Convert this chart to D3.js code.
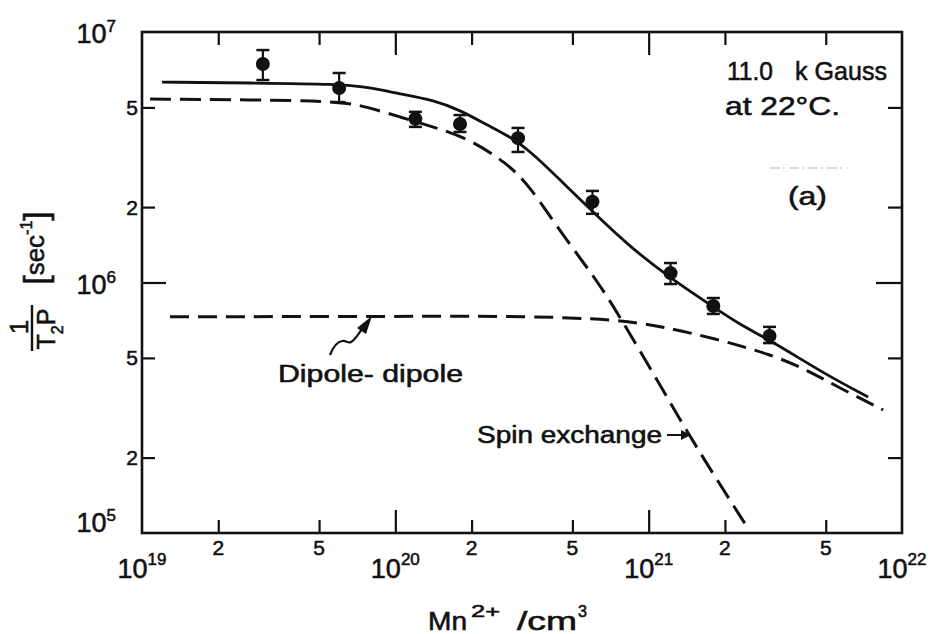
<!DOCTYPE html>
<html>
<head>
<meta charset="utf-8">
<script src="https://cdn.jsdelivr.net/npm/d3@7"></script>
<style>
  html, body { margin: 0; padding: 0; background: #fff; }
  svg { display: block; font-family: "Liberation Sans", Arial, sans-serif; }
  svg text { stroke: #111; stroke-width: 0.55px; }
</style>
</head>
<body>
<svg id="chart" width="944" height="634"></svg>
<script>
// Relaxation rate 1/(T2 P) against Mn2+ concentration (11.0 kGauss, 22 °C)

// Measured points with error limits
const concentration = [3.0e19, 6.0e19, 1.2e20, 1.8e20, 3.05e20, 6.0e20, 1.22e21, 1.8e21, 3.0e21];
const rate          = [7.45e6, 5.98e6, 4.50e6, 4.29e6, 3.77e6, 2.10e6, 1.09e6, 8.06e5, 6.12e5];
const rateLow       = [6.43e6, 5.25e6, 4.18e6, 3.99e6, 3.32e6, 1.88e6, 9.86e5, 7.49e5, 5.73e5];
const rateHigh      = [8.47e6, 6.86e6, 4.80e6, 4.66e6, 4.14e6, 2.32e6, 1.196e6, 8.67e5, 6.65e5];

// Calculated total rate (solid)
const totalCurve = [
  [1.20e19, 6.31e6], [2.67e19, 6.26e6], [6.05e19, 6.20e6], [7.73e19, 6.03e6],
  [1.044e20, 5.66e6], [1.41e20, 5.35e6], [1.80e20, 4.88e6], [2.30e20, 4.25e6],
  [3.02e20, 3.71e6], [3.97e20, 2.89e6], [4.47e20, 2.565e6], [6.03e20, 1.912e6],
  [8.45e20, 1.386e6], [1.215e21, 1.042e6], [1.80e21, 7.99e5], [2.30e21, 6.77e5],
  [3.10e21, 5.79e5], [4.88e21, 4.35e5], [7.35e21, 3.49e5]
];

// Spin-exchange contribution (dashed)
const spinExchangeCurve = [
  [1.076e19, 5.40e6], [2.67e19, 5.36e6], [6.05e19, 5.30e6], [7.73e19, 5.02e6],
  [1.044e20, 4.58e6], [1.41e20, 4.18e6], [1.92e20, 3.78e6], [2.76e20, 3.00e6],
  [3.40e20, 2.42e6], [4.59e20, 1.54e6], [6.25e20, 1.02e6], [7.71e20, 7.28e5],
  [1.08e21, 4.08e5], [1.457e21, 2.42e5], [1.862e21, 1.63e5], [2.446e21, 1.057e5]
];

// Dipole-dipole contribution (dashed)
const dipoleCurve = [
  [1.29e19, 7.30e5], [1.044e20, 7.32e5], [3.40e20, 7.35e5], [7.71e20, 7.10e5],
  [1.14e21, 6.65e5], [1.80e21, 6.00e5], [3.10e21, 5.13e5], [4.22e21, 4.47e5],
  [5.69e21, 3.79e5], [8.42e21, 3.10e5]
];

// Axis ticks and labels
const xMinorTicks  = [2e19, 5e19, 2e20, 5e20, 2e21, 5e21];
const xMinorLabels = ["2", "5", "2", "5", "2", "5"];
const xDecades     = [1e19, 1e20, 1e21, 1e22];
const xDecadeExp   = ["19", "20", "21", "22"];
const yMinorTicks  = [2e5, 5e5, 2e6, 5e6];
const yMinorLabels = ["2", "5", "2", "5"];
const yDecades     = [1e5, 1e6, 1e7];
const yDecadeExp   = ["5", "6", "7"];

const svg = d3.select("#chart");
const L = 142, R = 902, T = 32, B = 533;

const x = d3.scaleLog().domain([1e19, 1e22]).range([L, R]);
const y = d3.scaleLog().domain([1e5, 1e7]).range([B, T]);

const ink = "#111";

// Inward ticks on all four sides
const innerMajX = xDecades.filter(v => v > 1e19 && v < 1e22);
const innerMajY = yDecades.filter(v => v > 1e5 && v < 1e7);

function tickAxis(axisFn, scale, values, size, transform) {
  const g = svg.append("g").attr("transform", transform)
    .call(axisFn(scale).tickValues(values).tickSize(size).tickFormat(""));
  g.select(".domain").remove();
  g.selectAll(".tick line").attr("stroke", ink).attr("stroke-width", 2.2);
}
tickAxis(d3.axisBottom, x, xMinorTicks, -13, `translate(0,${B})`);
tickAxis(d3.axisBottom, x, innerMajX, -23, `translate(0,${B})`);
tickAxis(d3.axisTop, x, xMinorTicks, -13, `translate(0,${T})`);
tickAxis(d3.axisTop, x, innerMajX, -23, `translate(0,${T})`);
tickAxis(d3.axisLeft, y, yMinorTicks, -13, `translate(${L},0)`);
tickAxis(d3.axisLeft, y, innerMajY, -24, `translate(${L},0)`);
tickAxis(d3.axisRight, y, yMinorTicks, -14, `translate(${R},0)`);
tickAxis(d3.axisRight, y, innerMajY, -26, `translate(${R},0)`);

// Frame
svg.append("rect")
  .attr("x", L).attr("y", T).attr("width", R - L).attr("height", B - T)
  .attr("fill", "none").attr("stroke", ink).attr("stroke-width", 2.6);

// Tick labels
svg.append("g").selectAll("text").data(xMinorTicks).join("text")
  .attr("x", d => x(d)).attr("y", 555)
  .attr("text-anchor", "middle").attr("font-size", 21).attr("fill", ink)
  .text((d, i) => xMinorLabels[i]);

xDecades.forEach((v, i) => {
  const t = svg.append("text")
    .attr("x", x(v)).attr("y", 578)
    .attr("text-anchor", "middle").attr("fill", ink).attr("font-size", 27);
  t.append("tspan").text("10");
  t.append("tspan").attr("font-size", 17).attr("dy", -13).text(xDecadeExp[i]);
});

svg.append("g").selectAll("text").data(yMinorTicks).join("text")
  .attr("x", 138).attr("y", d => y(d) + 7.5)
  .attr("text-anchor", "end").attr("font-size", 21).attr("fill", ink)
  .text((d, i) => yMinorLabels[i]);

yDecades.forEach((v, i) => {
  const t = svg.append("text")
    .attr("x", 116).attr("y", Math.min(y(v) + 11, B - 1))
    .attr("text-anchor", "end").attr("fill", ink).attr("font-size", 27);
  t.append("tspan").text("10");
  t.append("tspan").attr("font-size", 17).attr("dy", -11).text(yDecadeExp[i]);
});

// Axis titles
function label(txt, xs, ys, size, len) {
  return svg.append("text").attr("x", xs).attr("y", ys)
    .attr("font-size", size).attr("fill", ink)
    .attr("textLength", len).attr("lengthAdjust", "spacingAndGlyphs")
    .text(txt);
}
label("Mn", 428, 630, 25, 39);
label("2+", 471, 617, 17, 29);
label("/cm", 517, 630, 25, 60);
label("3", 578, 617, 17, 9);

const yt = svg.append("g");
// numerator "1"
yt.append("text").attr("transform", "translate(28,327) rotate(-90)")
  .attr("text-anchor", "middle").attr("font-size", 26).attr("fill", ink).text("1");
// fraction bar
yt.append("line").attr("x1", 32).attr("x2", 32).attr("y1", 305).attr("y2", 351)
  .attr("stroke", ink).attr("stroke-width", 2.4);
// denominator T2P
const den = yt.append("text").attr("transform", "translate(55,329) rotate(-90)")
  .attr("text-anchor", "middle").attr("font-size", 25).attr("fill", ink);
den.append("tspan").text("T");
den.append("tspan").attr("font-size", 16).attr("dy", 8).text("2");
den.append("tspan").attr("dy", -8).text("P");
// units
const un = yt.append("text").attr("transform", "translate(44,248) rotate(-90)")
  .attr("text-anchor", "middle").attr("font-size", 26).attr("fill", ink);
un.append("tspan").attr("font-size", 34).attr("dy", 3).text("[");
un.append("tspan").attr("dy", -3).text("sec");
un.append("tspan").attr("font-size", 16).attr("dy", -12).text("-1");
un.append("tspan").attr("font-size", 34).attr("dy", 15).text("]");

// Curves
const line = d3.line().x(d => x(d[0])).y(d => y(d[1])).curve(d3.curveBasis);

svg.append("path").datum(dipoleCurve).attr("d", line)
  .attr("fill", "none").attr("stroke", ink).attr("stroke-width", 3)
  .attr("stroke-dasharray", "19,9");
svg.append("path").datum(spinExchangeCurve).attr("d", line)
  .attr("fill", "none").attr("stroke", ink).attr("stroke-width", 3)
  .attr("stroke-dasharray", "21,9");
svg.append("path").datum(totalCurve).attr("d", line)
  .attr("fill", "none").attr("stroke", ink).attr("stroke-width", 2.8);

// Data points with error bars
const pts = concentration.map((c, i) => ({ c, v: rate[i], lo: rateLow[i], hi: rateHigh[i] }));
const pg = svg.append("g").selectAll("g").data(pts).join("g");
pg.append("line")
  .attr("x1", d => x(d.c)).attr("x2", d => x(d.c))
  .attr("y1", d => y(d.lo)).attr("y2", d => y(d.hi))
  .attr("stroke", ink).attr("stroke-width", 2.2);
pg.append("line")
  .attr("x1", d => x(d.c) - 6.5).attr("x2", d => x(d.c) + 6.5)
  .attr("y1", d => y(d.hi)).attr("y2", d => y(d.hi))
  .attr("stroke", ink).attr("stroke-width", 2.5);
pg.append("line")
  .attr("x1", d => x(d.c) - 6.5).attr("x2", d => x(d.c) + 6.5)
  .attr("y1", d => y(d.lo)).attr("y2", d => y(d.lo))
  .attr("stroke", ink).attr("stroke-width", 2.5);
pg.append("circle")
  .attr("cx", d => x(d.c)).attr("cy", d => y(d.v)).attr("r", 7)
  .attr("fill", ink);

// Annotations
label("11.0", 727, 80, 25, 46);
label("k Gauss", 795, 80, 25, 92);
label("at 22\u00B0C.", 725, 115, 25, 115);
label("(a)", 788, 205, 25, 39);
label("Dipole- dipole", 278, 382, 23, 185);
label("Spin exchange", 477, 443, 23, 185);

// faint stroke next to the panel label
svg.append("line").attr("x1", 770).attr("x2", 847).attr("y1", 168).attr("y2", 168)
  .attr("stroke", "#999").attr("stroke-width", 1).attr("stroke-dasharray", "10,3,2,4")
  .attr("opacity", 0.7);

// Wavy pointer to the dipole-dipole curve
svg.append("path")
  .attr("d", "M330,355 C333,347 337,342 342,341 C346,340 348,344 351,342 C355,340 357,336 362,329")
  .attr("fill", "none").attr("stroke", ink).attr("stroke-width", 2.2);
svg.append("path")
  .attr("d", "M372,316 L357,328 L366,334 Z").attr("fill", ink);

// Straight pointer to the spin-exchange curve
svg.append("line").attr("x1", 667).attr("x2", 683).attr("y1", 435).attr("y2", 435)
  .attr("stroke", ink).attr("stroke-width", 2);
svg.append("path").attr("d", "M691,435 L681,430 L681,440 Z").attr("fill", ink);
</script>
</body>
</html>
